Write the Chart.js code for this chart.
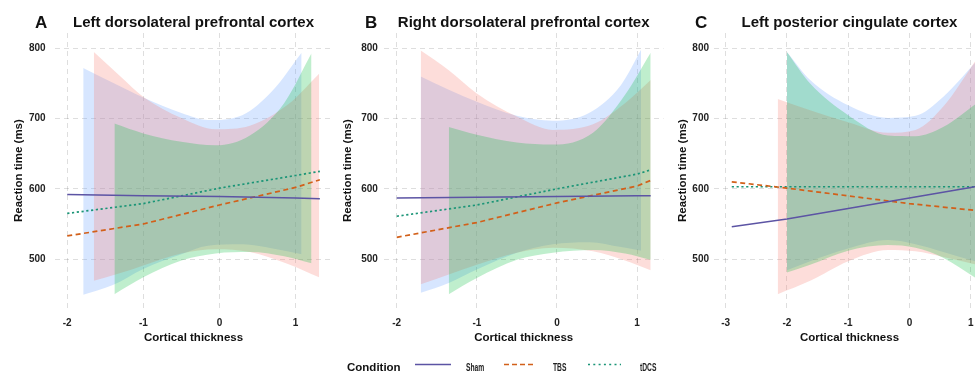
<!DOCTYPE html>
<html>
<head>
<meta charset="utf-8">
<script src="https://cdn.jsdelivr.net/npm/chart.js@4.4.1/dist/chart.umd.min.js"></script>
<style>
  html, body { margin: 0; padding: 0; background: #fff; overflow: hidden; width: 975px; height: 372px; }
  body { position: relative; font-family: "Liberation Sans", Arial, sans-serif; color: #111; }
  canvas { position: absolute; top: 0; }
  .lg { position: absolute; white-space: nowrap; line-height: 11px; font-size: 10.5px; font-weight: bold; transform: scaleX(0.64); transform-origin: left center; top: 361.5px; color: #222; }
  .lg.head { font-size: 11.5px; line-height: 12px; top: 361px; transform: none; color: #111; }
  .lgs { position: absolute; top: 362px; }
</style>
</head>
<body>
<canvas id="panelA" width="334" height="372" style="left:0px"></canvas>
<canvas id="panelB" width="331" height="372" style="left:334px"></canvas>
<canvas id="panelC" width="320" height="372" style="left:665px"></canvas>

<div class="lg head" style="left:347px">Condition</div>
<svg class="lgs" style="left:415px" width="36" height="5"><line x1="0" y1="2.5" x2="36" y2="2.5" stroke="#5C54A4" stroke-width="1.5"/></svg>
<div class="lg" style="left:466px">Sham</div>
<svg class="lgs" style="left:504px" width="32" height="5"><line x1="0" y1="2.5" x2="32" y2="2.5" stroke="#D2601A" stroke-width="1.7" stroke-dasharray="5 3"/></svg>
<div class="lg" style="left:553px">TBS</div>
<svg class="lgs" style="left:588px" width="33" height="5"><line x1="0" y1="2.5" x2="33" y2="2.5" stroke="#1B9577" stroke-width="1.7" stroke-dasharray="2 3.3"/></svg>
<div class="lg" style="left:640px">tDCS</div>

<script>
  'use strict';

  // ---- data ----
  const conditions = ['Sham', 'TBS', 'tDCS'];
  const panelLetters = ['A', 'B', 'C'];
  const panelTitles = [
    'Left dorsolateral prefrontal cortex',
    'Right dorsolateral prefrontal cortex',
    'Left posterior cingulate cortex'
  ];
  const yTicks = [500, 600, 700, 800];
  const xTicksAB = [-2, -1, 0, 1];
  const xTicksC = [-3, -2, -1, 0, 1];

  // A: left DLPFC
  const aLineX = [-2, -1, 0, 1, 1.32];
  const aSham = [592, 590, 589, 587, 586];
  const aTBS = [533, 550, 577, 602, 613];
  const aTDCS = [565, 579, 601, 619, 625];
  const aShamBandX = [-1.79, -1.4, -1.0, -0.5, -0.15, 0.3, 0.7, 1.08];
  const aShamHi = [772, 751, 730, 708, 698, 705, 740, 794];
  const aShamLo = [449, 463, 486, 507, 519, 521, 515, 507];
  const aTBSBandX = [-1.65, -1.3, -1.0, -0.5, -0.05, 0.4, 0.9, 1.31];
  const aTBSHi = [795, 760, 731, 701, 685, 690, 720, 764];
  const aTBSLo = [469, 480, 491, 508, 514, 510, 493, 474];
  const aTDCSBandX = [-1.38, -1.0, -0.5, -0.05, 0.4, 0.85, 1.21];
  const aTDCSHi = [693, 679, 667, 662, 676, 722, 793];
  const aTDCSLo = [450, 474, 498, 508, 510, 504, 494];

  // B: right DLPFC
  const bLineX = [-2, -1, 0, 1, 1.17];
  const bSham = [587, 588, 589, 590, 590];
  const bTBS = [531, 552, 580, 604, 612];
  const bTDCS = [561, 577, 600, 621, 627];
  const bShamBandX = [-1.70, -1.35, -1.0, -0.5, -0.05, 0.4, 0.8, 1.05];
  const bShamHi = [760, 741, 724, 704, 697, 708, 748, 798];
  const bShamLo = [452, 466, 485, 509, 521, 524, 517, 512];
  const bTBSBandX = [-1.70, -1.35, -1.0, -0.5, -0.05, 0.45, 0.85, 1.17];
  const bTBSHi = [797, 769, 736, 703, 684, 692, 722, 755];
  const bTBSLo = [464, 478, 492, 509, 516, 511, 498, 484];
  const bTDCSBandX = [-1.35, -1.0, -0.5, -0.05, 0.45, 0.85, 1.17];
  const bTDCSHi = [688, 677, 666, 663, 680, 734, 794];
  const bTDCSLo = [450, 473, 499, 509, 513, 508, 499];

  // C: left PCC
  const cLineX = [-2.9, -2, -1, 0, 1, 1.2];
  const cSham = [546, 557, 572, 587, 602, 605];
  const cTBS = [610, 601, 590, 579, 570, 568];
  const cTDCS = [603, 603, 603, 603, 603, 603];
  const cShamBandX = [-2.0, -1.62, -1.0, -0.35, 0.1, 0.55, 1.1];
  const cShamHi = [795, 755, 719, 701, 704, 731, 782];
  const cShamLo = [484, 497, 515, 527, 521, 510, 496];
  const cTBSBandX = [-2.15, -1.62, -1.0, -0.35, 0.1, 0.55, 1.1];
  const cTBSHi = [728, 712, 695, 680, 684, 717, 785];
  const cTBSLo = [450, 469, 497, 513, 511, 503, 492];
  const cTDCSBandX = [-2.0, -1.62, -1.0, -0.35, 0.1, 0.55, 1.1];
  const cTDCSHi = [795, 750, 705, 676, 675, 688, 722];
  const cTDCSLo = [481, 492, 512, 520, 516, 502, 472];

  // ---- styling ----
  const FONT = '"Liberation Sans", Arial, sans-serif';
  const lineColors = ['#5C54A4', '#D2601A', '#1B9577'];
  const lineDash = [[], [5, 3.5], [2.2, 2.6]];
  const lineWidths = [1.5, 1.7, 1.7];
  const bandColors = ['rgba(97,156,255,0.25)', 'rgba(248,118,109,0.25)', 'rgba(0,186,56,0.25)'];
  const GRID = 'rgba(0,0,0,0.13)';

  const panels = [
    {
      id: 'panelA', xTicks: xTicksAB, xMin: -2.166, xMax: 1.486,
      yWidth: 54.6, padRight: 1.5, tickPad: 9, yTitlePad: 11.8, letterX: 35,
      lineX: aLineX, lines: [aSham, aTBS, aTDCS],
      bands: [
        { x: aShamBandX, hi: aShamHi, lo: aShamLo },
        { x: aTBSBandX, hi: aTBSHi, lo: aTBSLo },
        { x: aTDCSBandX, hi: aTDCSHi, lo: aTDCSLo }
      ]
    },
    {
      id: 'panelB', xTicks: xTicksAB, xMin: -2.16, xMax: 1.33,
      yWidth: 49.9, padRight: 1.5, tickPad: 6, yTitlePad: 7, letterX: 31,
      lineX: bLineX, lines: [bSham, bTBS, bTDCS],
      bands: [
        { x: bShamBandX, hi: bShamHi, lo: bShamLo },
        { x: bTBSBandX, hi: bTBSHi, lo: bTBSLo },
        { x: bTDCSBandX, hi: bTDCSHi, lo: bTDCSLo }
      ]
    },
    {
      id: 'panelC', xTicks: xTicksC, xMin: -3.19, xMax: 1.234,
      yWidth: 49, padRight: 0, tickPad: 5, yTitlePad: 11, letterX: 30,
      lineX: cLineX, lines: [cSham, cTBS, cTDCS],
      bands: [
        { x: cShamBandX, hi: cShamHi, lo: cShamLo },
        { x: cTBSBandX, hi: cTBSHi, lo: cTBSLo },
        { x: cTDCSBandX, hi: cTDCSHi, lo: cTDCSLo }
      ]
    }
  ];

  const pts = (xs, ys) => xs.map((x, i) => ({ x: x, y: ys[i] }));

  function buildDatasets(p) {
    const ds = [];
    // fitted lines, drawn last (order 0)
    p.lines.forEach((ys, i) => {
      ds.push({
        label: conditions[i],
        data: pts(p.lineX, ys),
        borderColor: lineColors[i],
        borderWidth: lineWidths[i],
        borderDash: lineDash[i],
        pointRadius: 0,
        tension: 0,
        fill: false,
        order: 0
      });
    });
    // confidence ribbons: Sham underneath, tDCS on top
    p.bands.forEach((b, i) => {
      const hiIndex = ds.length;
      const common = { pointRadius: 0, borderWidth: 1, borderColor: 'rgba(0,0,0,0)', cubicInterpolationMode: 'monotone', order: 3 - i };
      ds.push(Object.assign({ label: conditions[i] + ' upper', data: pts(b.x, b.hi), backgroundColor: bandColors[i], fill: hiIndex + 1 }, common));
      ds.push(Object.assign({ label: conditions[i] + ' lower', data: pts(b.x, b.lo), fill: false }, common));
    });
    return ds;
  }

  const panelTitle = {
    id: 'panelTitle',
    afterDraw(chart, args, opts) {
      const { ctx, chartArea } = chart;
      ctx.save();
      ctx.fillStyle = '#111';
      ctx.textBaseline = 'alphabetic';
      ctx.textAlign = 'left';
      ctx.font = 'bold 17px ' + FONT;
      ctx.fillText(opts.letter, opts.letterX, 27.5);
      ctx.textAlign = 'center';
      ctx.font = 'bold 15px ' + FONT;
      ctx.fillText(opts.text, (chartArea.left + chartArea.right) / 2, 27);
      ctx.restore();
    }
  };

  panels.forEach((p, k) => {
    new Chart(document.getElementById(p.id), {
      type: 'line',
      data: { datasets: buildDatasets(p) },
      plugins: [panelTitle],
      options: {
        responsive: false,
        animation: false,
        events: [],
        layout: { autoPadding: false, padding: { top: 33, right: p.padRight, bottom: 0, left: 0 } },
        plugins: {
          legend: { display: false },
          tooltip: { enabled: false },
          panelTitle: { letter: panelLetters[k], letterX: p.letterX, text: panelTitles[k] }
        },
        scales: {
          x: {
            type: 'linear',
            min: p.xMin,
            max: p.xMax,
            afterBuildTicks: (s) => { s.ticks = p.xTicks.map((v) => ({ value: v })); },
            afterFit: (s) => { s.height = 63.8; },
            grid: { color: GRID, drawTicks: false },
            border: { display: false, dash: [5, 4] },
            ticks: { padding: 9, color: '#222', font: { family: FONT, size: 10, weight: 'bold' }, callback: (v) => String(v) },
            title: { display: true, text: 'Cortical thickness', color: '#111', font: { family: FONT, size: 11.5, weight: 'bold' }, padding: { top: 0, bottom: 27 } }
          },
          y: {
            type: 'linear',
            min: 430,
            max: 822,
            afterBuildTicks: (s) => { s.ticks = yTicks.map((v) => ({ value: v })); },
            afterFit: (s) => { s.width = p.yWidth; },
            grid: { color: GRID, drawTicks: false },
            border: { display: false, dash: [5, 4] },
            ticks: { padding: p.tickPad, color: '#222', font: { family: FONT, size: 10, weight: 'bold' }, callback: (v) => String(v) },
            title: { display: true, text: 'Reaction time (ms)', color: '#111', font: { family: FONT, size: 11.5, weight: 'bold' }, padding: { top: p.yTitlePad, bottom: 0 } }
          }
        }
      }
    });
  });
</script>
</body>
</html>
